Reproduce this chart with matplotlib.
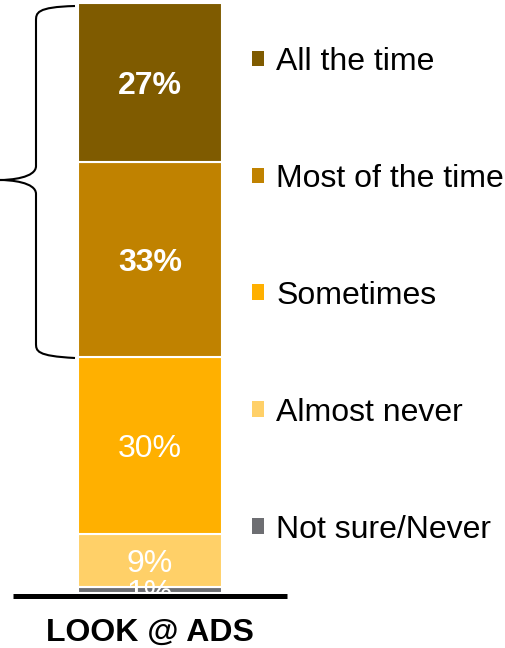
import matplotlib
matplotlib.use("Agg")
import matplotlib.pyplot as plt
from matplotlib.patches import Patch
from matplotlib.path import Path
from matplotlib.patches import PathPatch

plt.rcParams['font.family'] = ['Liberation Sans', 'DejaVu Sans']

# data (bottom to top)
categories = ['Not sure/Never', 'Almost never', 'Sometimes', 'Most of the time', 'All the time']
values = [1, 9, 30, 33, 27]
bold_labels = [False, False, False, True, True]
colors = ['#6D6E72', '#FFD068', '#FFB000', '#C08200', '#7F5B00']
bar_label = 'LOOK @ ADS'

W, H = 506, 648
fig = plt.figure(figsize=(W / 100, H / 100), dpi=100)

# axes mapped so that x is in pixels, y in percent
y0_px, y100_px = 593, 3
ax = fig.add_axes([0, (H - y0_px) / H, 1, (y0_px - y100_px) / H])
ax.set_xlim(0, W)
ax.set_ylim(0, 100)
ax.axis('off')

FS = 23
bar_x, bar_w = 150, 144
bottom = 0
for v, c, b in zip(values, colors, bold_labels):
    ax.bar(bar_x, v, width=bar_w, bottom=bottom, color=c,
           edgecolor='white', linewidth=1.5, zorder=2)
    ax.text(bar_x, bottom + v / 2, f'{v}%', ha='center', va='center_baseline',
            color='white', fontsize=FS,
            fontweight='bold' if b else 'normal', zorder=3)
    bottom += v

# baseline
ax.plot([13, 287], [-0.45, -0.45], color='black', lw=3.6, zorder=5,
        clip_on=False, solid_capstyle='butt')

# brace spanning the top two segments
lo = sum(values[:3])
hi = sum(values)
mid = (lo + hi) / 2
px = 1 / 5.9  # percent per pixel (approx.)
xs, xm, xt = 75, 36, 0
verts = [
    (xs, hi - 3 * px),
    (xm, hi - 4 * px), (xm, hi - 10 * px), (xm, hi - 18 * px),
    (xm, mid + 14 * px),
    (xm, mid + 2 * px), (xt + 10, mid), (xt, mid),
    (xt + 10, mid), (xm, mid - 2 * px), (xm, mid - 14 * px),
    (xm, lo + 14 * px),
    (xm, lo + 6 * px), (xm, lo + 1 * px), (xs, lo - 1 * px),
]
codes = [Path.MOVETO,
         Path.CURVE4, Path.CURVE4, Path.CURVE4,
         Path.LINETO,
         Path.CURVE4, Path.CURVE4, Path.CURVE4,
         Path.CURVE4, Path.CURVE4, Path.CURVE4,
         Path.LINETO,
         Path.CURVE4, Path.CURVE4, Path.CURVE4]
ax.add_patch(PathPatch(Path(verts, codes), facecolor='none',
                       edgecolor='black', lw=1.5, clip_on=False))

# legend (top to bottom)
handles = [Patch(facecolor=c, edgecolor='none', label=l)
           for c, l in zip(colors[::-1], categories[::-1])]
fig.legend(handles=handles, loc='upper left',
           bbox_to_anchor=(252 / W, 1 - 47 / H), bbox_transform=fig.transFigure,
           frameon=False, fontsize=FS, labelspacing=2.72,
           handlelength=0.38, handleheight=0.38, handletextpad=0.38,
           borderpad=0, borderaxespad=0)

fig.text(bar_x / W, 1 - 633 / H, bar_label, ha='center', va='center',
         fontsize=FS, fontweight='bold')

fig.savefig('out.png', dpi=100, facecolor='white')
